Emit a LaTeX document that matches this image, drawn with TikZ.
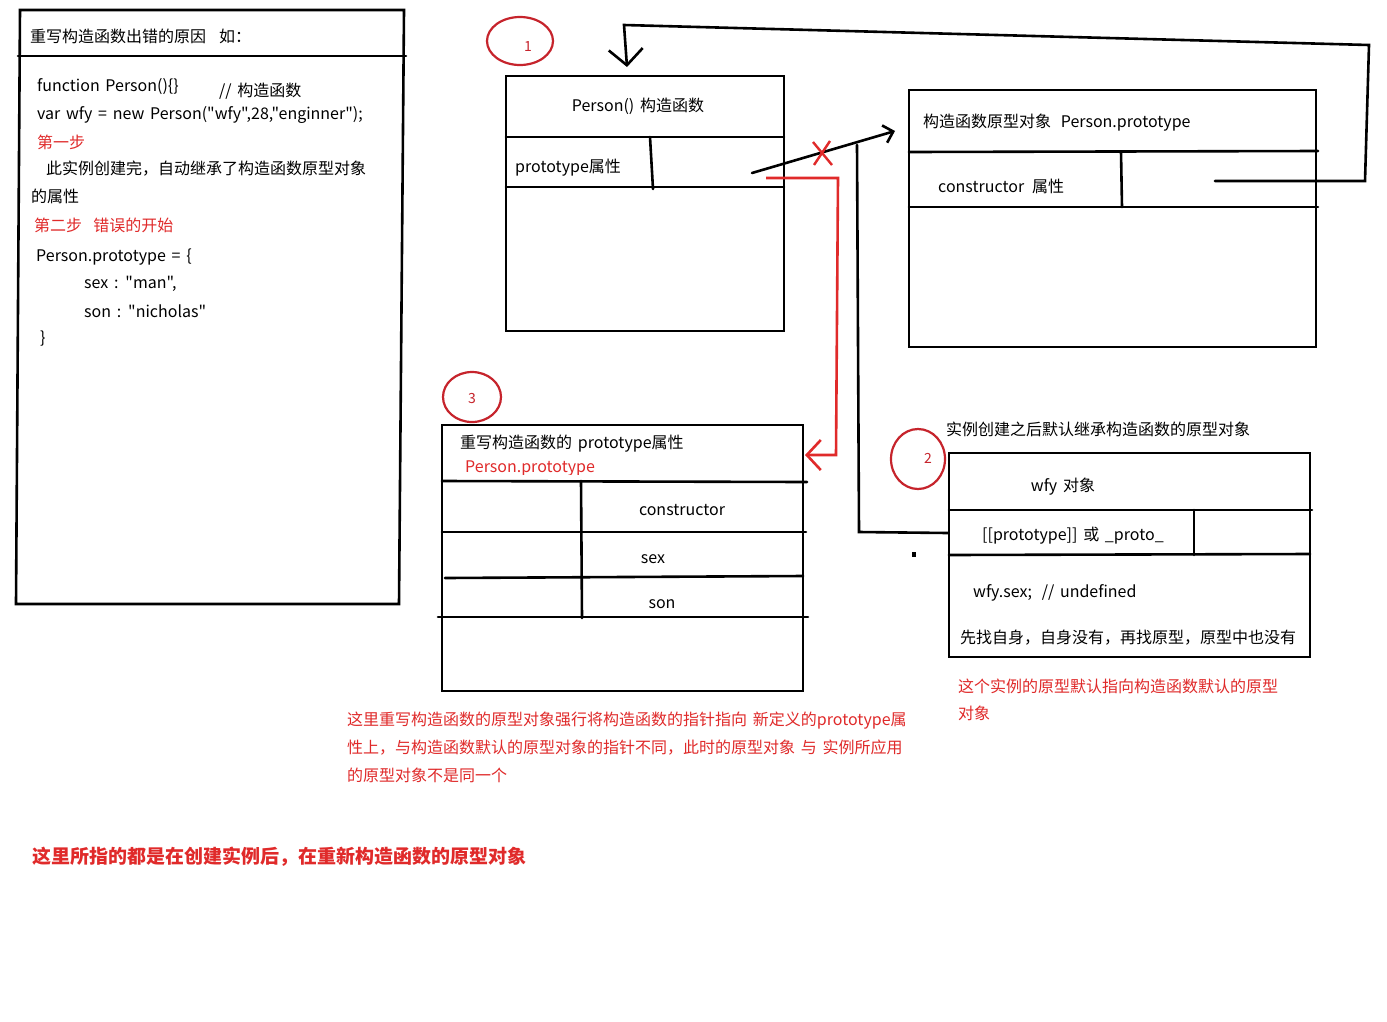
\documentclass[tikz,border=0pt]{standalone}
\usepackage{fontspec}
\setmainfont{Noto Sans CJK SC}[Ligatures=TeXOff, WordSpace=1.6]
\usetikzlibrary{arrows.meta,shapes.geometric}
\definecolor{myred}{RGB}{224,42,42}
\definecolor{circred}{RGB}{198,36,44}
\begin{document}
\begin{tikzpicture}[x=1pt,y=-1pt,
  ln/.style={line width=2.6pt, black, line cap=round, line join=miter},
  rln/.style={line width=2.6pt, myred},
  boxs/.style={draw, line width=2.6pt, anchor=north west, inner sep=0pt, outer sep=0pt},
  t/.style={anchor=west, inner sep=0pt, font=\fontsize{16}{18}\selectfont},
  rt/.style={t, text=myred},
  circ/.style={draw=circred, line width=2.2pt, ellipse, inner sep=0pt},
  clab/.style={inner sep=0pt, text=circred, font=\fontsize{14}{16}\selectfont},
  barb/.style={-{Straight Barb[length=16pt,width=34pt,line width=2.6pt]}},
  sbarb/.style={-{Straight Barb[length=9pt,width=18pt,line width=2.6pt]}},
  rbarb/.style={-{Straight Barb[length=14pt,width=30pt,line width=2.6pt]}}
]
\useasboundingbox (0,0) rectangle (1387,1021);
\fill[white] (0,0) rectangle (1387,1021);

% ---------- left explanation box ----------
\draw[ln] (20,10) -- (404,10) -- (399,604) -- (16,604) -- cycle;
\draw[ln] (18,56) -- (406,56);
\node[t] (hA) at (30,36) {重写构造函数出错的原因\hspace{0.8em}如：};
\node[t] (l1) at (37,87) {function Person()\{\}};
\node[t] (l1c) at (219,91) {// 构造函数};
\node[t] (l2) at (37,115) {var wfy = new Person("wfy",28,"enginner");};
\node[rt] (l3) at (37,142) {第一步};
\node[t] (l4) at (46,169) {此实例创建完，自动继承了构造函数原型对象};
\node[t] (l5) at (31,196) {的属性};
\node[rt] (l6) at (34,225) {第二步\hspace{0.7em}错误的开始};
\node[t] (l7) at (36,257) {Person.prototype = \{};
\node[t] (l8) at (84,284) {sex : "man",};
\node[t] (l9) at (84,311) {son : "nicholas"};
\node[t] (l10) at (40,339) {\}};

% ---------- box 1: constructor ----------
\node[circ, minimum width=66pt, minimum height=48pt] (c1) at (520,41) {};
\node[clab] (c1t) at (528,47) {1};
\node[boxs, minimum width=278pt, minimum height=255pt] (B1) at (506,76) {};
\draw[ln] (506,137) -- (784,137);
\draw[ln] (506,187) -- (784,187);
\draw[ln] (650,137) -- (653,189);
\node[t, anchor=center] (B1t) at (638,106) {Person() 构造函数};
\node[t] (B1p) at (515,168) {prototype属性};

% ---------- box 2: constructor prototype ----------
\node[boxs, minimum width=407pt, minimum height=257pt] (B2) at (909,90) {};
\draw[ln] (909,152) -- (1318,151);
\draw[ln] (909,207) -- (1318,207);
\draw[ln] (1121,152) -- (1122,207);
\node[t] (B2t) at (923,123) {构造函数原型对象\hspace{0.6em}Person.prototype};
\node[t] (B2c) at (938,186) {constructor\hspace{0.5em}属性};

% ---------- box 3: rewritten prototype ----------
\node[circ, minimum width=58pt, minimum height=50pt] (c3) at (472,397) {};
\node[clab] (c3t) at (472,398) {3};
\node[boxs, minimum width=361pt, minimum height=266pt] (B3) at (442,425) {};
\draw[ln] (442,481) -- (807,482);
\draw[ln] (442,532) -- (806,532);
\draw[ln] (445,578) -- (803,576);
\draw[ln] (438,617) -- (808,617);
\draw[ln] (581,481) -- (582,618);
\node[t] (B3t) at (460,444) {重写构造函数的 prototype属性};
\begin{scope}
  \clip (444,427) rectangle (801,474);
  \node[rt] (B3r) at (465,468) {Person.prototype};
\end{scope}
\node[t, anchor=center] (B3c) at (682,510) {constructor};
\node[t, anchor=center] (B3s) at (653,559) {sex};
\node[t, anchor=center] (B3n) at (662,604) {son};

% ---------- box 4: wfy instance ----------
\node[t] (capW) at (946,429) {实例创建之后默认继承构造函数的原型对象};
\node[circ, minimum width=54pt, minimum height=60pt] (c2) at (918,459) {};
\node[clab] (c2t) at (928,458) {2};
\node[boxs, minimum width=361pt, minimum height=204pt] (B4) at (949,453) {};
\draw[ln] (949,510) -- (1312,510);
\draw[ln] (949,555) -- (1310,554);
\draw[ln] (1194,510) -- (1194,555);
\node[t, anchor=center] (B4t) at (1063,487) {wfy 对象};
\node[t] (B4p) at (982,536) {[[prototype]] 或 \_proto\_};
\node[t] (B4s) at (973,593) {wfy.sex;\hspace{0.6em}// undefined};
\node[t] (B4f) at (960,638) {先找自身，自身没有，再找原型，原型中也没有};
\node[rt] (n1) at (958,686) {这个实例的原型默认指向构造函数默认的原型};
\node[rt] (n2) at (958,713) {对象};

% ---------- notes ----------
\node[rt] (p1) at (347,721) {这里重写构造函数的原型对象强行将构造函数的指针指向 新定义的prototype属};
\node[rt] (p2) at (347,748) {性上，与构造函数默认的原型对象的指针不同，此时的原型对象 与 实例所应用};
\node[rt] (p3) at (347,775) {的原型对象不是同一个};
\node[rt, font=\fontsize{19}{22}\bfseries\selectfont] (p4) at (32,857) {这里所指的都是在创建实例后，在重新构造函数的原型对象};

% ---------- connectors ----------
\coordinate (pStart) at (752,173);
\coordinate (pEnd) at (895,131);
\draw[ln, sbarb] (pStart) -- (pEnd);
% red cross on the old pointer
\draw[line width=2.4pt, myred] (813,142) -- (832,165);
\draw[line width=2.4pt, myred] (830,141) -- (814,165);

% constructor loop back to Person()
\coordinate (kStart) at (1215,181);
\coordinate (kA) at (1365,181);
\coordinate (kB) at (1369,45);
\coordinate (kC) at (624,25);
\coordinate (kEnd) at (627,67);
\draw[ln, barb] (kStart) -- (kA) -- (kB) -- (kC) -- (kEnd);

% wfy [[prototype]] up to the pointer
\coordinate (wStart) at (948,533);
\coordinate (wA) at (859,532);
\coordinate (wEnd) at (857,145);
\draw[ln] (wStart) -- (wA) -- (wEnd);
\fill (912,552) rectangle (916,557);

% red new pointer to rewritten prototype
\coordinate (rStart) at (766,178);
\coordinate (rA) at (838,178);
\coordinate (rB) at (836,455);
\coordinate (rEnd) at (805,455);
\draw[rln, rbarb] (rStart) -- (rA) -- (rB) -- (rEnd);
\end{tikzpicture}
\end{document}
